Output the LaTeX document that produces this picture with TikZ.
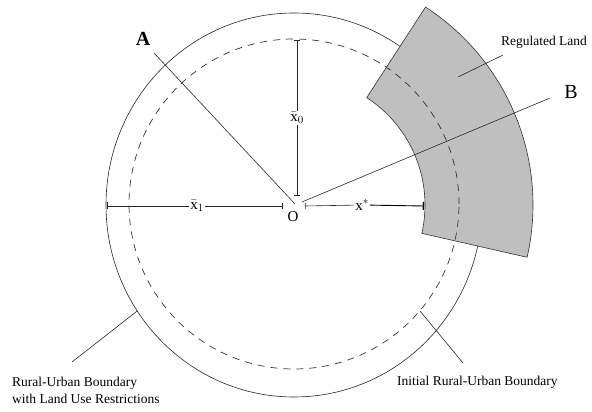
\documentclass[tikz,border=0pt]{standalone}
\usepackage{fontspec}
\setmainfont{Liberation Serif}
\usetikzlibrary{arrows.meta,calc}
\begin{document}
\begin{tikzpicture}[x=1pt,y=1pt,
  ln/.style={line width=0.6pt, draw=black!85},
  dsh/.style={line width=0.7pt, draw=black!80, dash pattern=on 7pt off 6pt},
  lbl/.style={font=\fontsize{13.5}{17}\selectfont, inner sep=0pt},
  big/.style={font=\fontsize{20}{22}\selectfont, inner sep=0pt},
  mlbl/.style={font=\fontsize{15}{17}\selectfont, inner sep=1pt}
]
\useasboundingbox (0,0) rectangle (592,412);

% outer boundary (with restrictions)
\coordinate (C) at (294,207);
\draw[ln] (C) ellipse [x radius=188, y radius=192];

% regulated land: annular sector about the centre
\coordinate (S) at (297,207);
\path[fill=black!25, draw=black!80, line width=0.6pt]
  ($(S)+(57:128)$) -- ($(S)+(57:236)$) arc[start angle=57, end angle=-12.8, radius=236]
  -- ($(S)+(-12.8:128)$) arc[start angle=-12.8, end angle=57, radius=128] -- cycle;

% initial boundary (dashed)
\coordinate (D) at (294,208);
\draw[dsh] (D) circle [radius=165];

% centre and labels
\coordinate (O) at (297,209);
\node[mlbl] (Olbl) at (293,195) {O};
\node[big] (Albl) at (143,373) {\textbf{A}};
\node[big] (Blbl) at (571,320) {B};
\coordinate (Aend) at (154,359);
\coordinate (Ao) at (295,208);
\coordinate (Bo) at (302,210);
\coordinate (Bend) at (550,314);
\draw[ln] (Aend) -- (Ao);
\draw[ln] (Bo) -- (Bend);

% x1 bar
\coordinate (x1L) at (107,206);
\coordinate (x1R) at (283,206);
\node[mlbl] (x1lbl) at (197,206) {$\bar{\mathrm{x}}_1$};
\draw[ln, {Bar[width=7pt]}-] (x1L) -- (x1lbl);
\draw[ln, -{Bar[width=6pt]}] (x1lbl) -- (x1R);

% x* bar
\coordinate (xsL) at (305,206);
\coordinate (xsR) at (424,206);
\node[mlbl] (xslbl) at (362,207) {$\mathrm{x}^{*}$};
\draw[ln, {Bar[width=6pt]}-] (xsL) -- (xslbl);
\draw[line width=0.9pt, -{Bar[width=8pt,line width=1.3pt]}] (xslbl) -- (xsR);

% x0 bar
\coordinate (x0T) at (297,372);
\coordinate (x0B) at (297,216);
\node[mlbl] (x0lbl) at (297,294) {$\bar{\mathrm{x}}_0$};
\draw[ln, {Bar[width=6pt]}-] (x0T) -- (x0lbl);
\draw[ln, -{Bar[width=6pt]}] (x0lbl) -- (x0B);

% regulated land label
\node[lbl] (reg) at (544,370) {Regulated Land};
\coordinate (regin) at (458,335);
\coordinate (regout) at (503,357);
\draw[ln] (regin) -- (regout);

% bottom labels
\node[lbl, anchor=west, align=left] (rur) at (12,22) {Rural-Urban Boundary\\with Land Use Restrictions};
\coordinate (rurtip) at (72,50);
\coordinate (rurend) at ($(C)+(213.5:188 and 192)$);
\draw[ln] (rurtip) -- (rurend);

\node[lbl, anchor=west] (ini) at (397,30) {Initial Rural-Urban Boundary};
\coordinate (initip) at (463,49);
\coordinate (iniend) at (420,101);
\draw[ln] (initip) -- (iniend);
\end{tikzpicture}
\end{document}
